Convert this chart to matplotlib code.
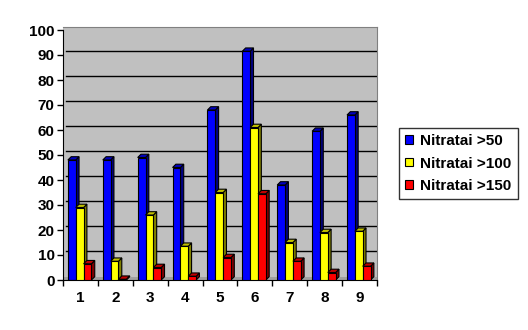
import matplotlib
matplotlib.use("Agg")
import matplotlib.pyplot as plt
from matplotlib.patches import Polygon, Rectangle
import numpy as np

categories = ["1", "2", "3", "4", "5", "6", "7", "8", "9"]
series_names = ["Nitratai >50", "Nitratai >100", "Nitratai >150"]
v50 = [48, 48, 49, 45, 68, 91.5, 38, 59.5, 66]
v100 = [29, 7.5, 26, 13.5, 35, 61, 15, 19, 19.5]
v150 = [6.5, 0.3, 5, 1.5, 9, 34.5, 7.5, 3, 5.5]
y_ticks = [0, 10, 20, 30, 40, 50, 60, 70, 80, 90, 100]

front_cols = ["#0000FF", "#FFFF00", "#FF0000"]
top_cols = ["#0000C0", "#C0C000", "#C00000"]
side_cols = ["#000080", "#808000", "#800000"]

plt.rcParams['font.family'] = ['Liberation Sans', 'DejaVu Sans']
fig = plt.figure(figsize=(5.28, 3.3), dpi=100)
ax = fig.add_axes([63/528, 50/330, 314/528, 253/330])
ymax = 101.2
ax.set_xlim(0.5, 9.5)
ax.set_ylim(0, ymax)

# depth offsets in data units
dx = 3.3 / 34.9
dy = 3.3 / 2.5
wall_dy = 4 / 2.5

ax.set_facecolor("#C0C0C0")
for s in ["top", "right"]:
    ax.spines[s].set_color("#808080")
for s in ["left", "bottom"]:
    ax.spines[s].set_color("black")
ax.spines["left"].set_bounds(0, 100)

# floor strip
ax.add_patch(Rectangle((0.5, 0), 9.0, wall_dy * 0.8, facecolor="#A0A0A0",
                       edgecolor="none", zorder=1))
# gridlines on back wall
for t in y_ticks[1:-1]:
    ax.plot([0.5 + dx, 9.5], [t + wall_dy, t + wall_dy], color="black", lw=1.0, zorder=1.5)

width = 0.225
offsets = [-0.247, -0.022, 0.203]
x = np.arange(1, len(categories) + 1)
all_vals = [v50, v100, v150]
z = 2
for i in range(len(categories)):
    for k, vals in enumerate(all_vals):
        cx = x[i] + offsets[k]
        h = vals[i]
        left = cx - width / 2
        right = cx + width / 2
        ax.bar([cx], [h], width=width, color=front_cols[k], edgecolor="black",
               linewidth=0.8, zorder=z + 0.2, label=series_names[k] if i == 0 else None)
        side = Polygon([(right, 0), (right + dx, dy), (right + dx, h + dy), (right, h)],
                       closed=True, facecolor=side_cols[k], edgecolor="black", lw=0.8, zorder=z)
        top = Polygon([(left, h), (left + dx, h + dy), (right + dx, h + dy), (right, h)],
                      closed=True, facecolor=top_cols[k], edgecolor="black", lw=0.8, zorder=z + 0.1)
        ax.add_patch(side)
        ax.add_patch(top)
        z += 1

ax.set_yticks(y_ticks)
ax.set_yticklabels([str(t) for t in y_ticks], fontsize=11, fontweight="bold")
ax.set_xticks(x)
ax.set_xticklabels(categories, fontsize=11, fontweight="bold")
ax.tick_params(axis="x", length=0, pad=8)
ax.tick_params(axis="y", length=4, width=1, direction="out", pad=2)
# category boundary ticks
ax.set_xticks(np.arange(0.5, 10.0, 1.0), minor=True)
ax.tick_params(axis="x", which="minor", length=4, width=1, direction="out")

leg = fig.legend(loc="upper left", bbox_to_anchor=(399/528, 1 - 128/330),
                 frameon=True, fancybox=False, edgecolor="black",
                 prop={"size": 11, "weight": "bold"}, handlelength=0.5, handleheight=0.5,
                 handletextpad=0.5, labelspacing=0.55, borderpad=0.4, borderaxespad=0)
leg.get_frame().set_linewidth(1.0)
for h in leg.legend_handles:
    h.set_edgecolor("black")

fig.savefig("out.png", dpi=100)
